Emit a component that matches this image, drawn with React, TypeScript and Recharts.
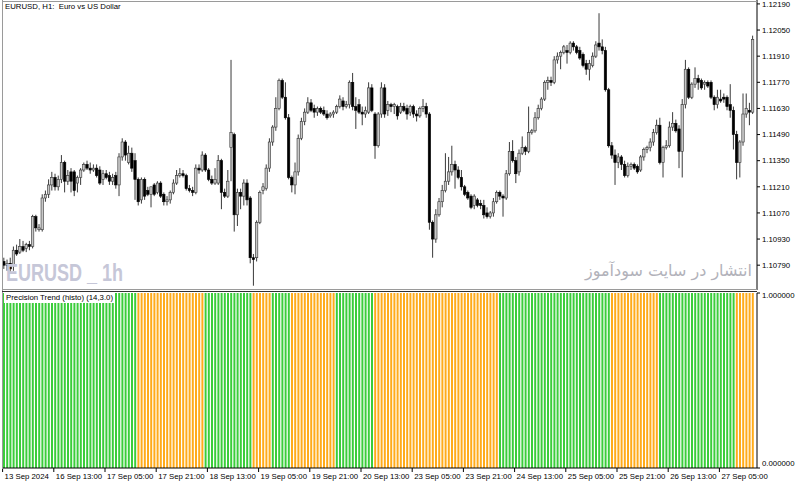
import React from 'react';
import { ComposedChart, Bar, XAxis, YAxis, Cell } from 'recharts';

// EURUSD H1 candles: open, high, low, close
const candles: [number, number, number, number][] = [
  [1.1081, 1.1083, 1.1077, 1.1079], [1.1079, 1.1082, 1.1076, 1.108], [1.108, 1.1083, 1.1075, 1.1077],
  [1.1079, 1.1089, 1.1076, 1.1087], [1.1087, 1.109, 1.1084, 1.1085], [1.1086, 1.1093, 1.1085, 1.1089],
  [1.1089, 1.1092, 1.1086, 1.1087], [1.1088, 1.1091, 1.1086, 1.109], [1.109, 1.1092, 1.1087, 1.1089],
  [1.1089, 1.1106, 1.1088, 1.1105], [1.1105, 1.1106, 1.1097, 1.1099], [1.1098, 1.1101, 1.1097, 1.1099],
  [1.1098, 1.1117, 1.1097, 1.1115], [1.1115, 1.1119, 1.1113, 1.1117], [1.1117, 1.1125, 1.1115, 1.1122],
  [1.1122, 1.1129, 1.1119, 1.1126], [1.1126, 1.1128, 1.1119, 1.1121], [1.1121, 1.1127, 1.1119, 1.1125],
  [1.1125, 1.1138, 1.1123, 1.1134], [1.1134, 1.1135, 1.1118, 1.1124], [1.1124, 1.113, 1.1122, 1.1127],
  [1.1129, 1.1131, 1.1118, 1.1124], [1.1129, 1.113, 1.1116, 1.1119], [1.1123, 1.1127, 1.1118, 1.1126],
  [1.1126, 1.1131, 1.1122, 1.113], [1.113, 1.1134, 1.1129, 1.1133], [1.1133, 1.1135, 1.113, 1.1131],
  [1.1131, 1.1134, 1.1128, 1.113], [1.113, 1.1133, 1.1129, 1.1131], [1.1131, 1.1133, 1.1126, 1.1127],
  [1.113, 1.1132, 1.1122, 1.1123], [1.1125, 1.113, 1.1122, 1.1128], [1.1128, 1.113, 1.1125, 1.1126],
  [1.1127, 1.1129, 1.1122, 1.1124], [1.1124, 1.1128, 1.1122, 1.1126], [1.1127, 1.1129, 1.112, 1.1122],
  [1.1122, 1.1139, 1.1116, 1.1137], [1.1137, 1.1147, 1.1135, 1.1145], [1.1145, 1.1146, 1.1135, 1.1138],
  [1.1134, 1.1143, 1.1133, 1.1139], [1.1139, 1.1142, 1.1129, 1.1131], [1.1135, 1.1139, 1.1114, 1.1125],
  [1.1125, 1.1126, 1.1111, 1.1113], [1.1114, 1.1126, 1.1112, 1.1125], [1.1125, 1.1126, 1.1114, 1.1116],
  [1.1119, 1.1121, 1.1116, 1.1117], [1.1117, 1.1121, 1.111, 1.1121], [1.1122, 1.1123, 1.1116, 1.1117],
  [1.1118, 1.1124, 1.1117, 1.1123], [1.1123, 1.1124, 1.1115, 1.1116], [1.1117, 1.1118, 1.1111, 1.1113],
  [1.1113, 1.1116, 1.1111, 1.1114], [1.1114, 1.1119, 1.1112, 1.1118], [1.1118, 1.1125, 1.1117, 1.1123],
  [1.1123, 1.113, 1.1122, 1.1127], [1.1127, 1.1131, 1.1126, 1.1128], [1.1128, 1.113, 1.1126, 1.1127],
  [1.1127, 1.1128, 1.1119, 1.112], [1.112, 1.1122, 1.1118, 1.1119], [1.1119, 1.1121, 1.1116, 1.1118],
  [1.1118, 1.1133, 1.1117, 1.1131], [1.1131, 1.1133, 1.1128, 1.113], [1.113, 1.114, 1.1129, 1.1138],
  [1.1138, 1.1139, 1.1129, 1.113], [1.113, 1.1131, 1.1124, 1.1125], [1.1125, 1.1127, 1.1122, 1.1123],
  [1.1123, 1.1131, 1.1122, 1.1125], [1.1123, 1.1138, 1.1122, 1.1135], [1.1135, 1.1136, 1.1109, 1.1118],
  [1.1118, 1.112, 1.1115, 1.1116], [1.1116, 1.113, 1.1115, 1.1124], [1.1142, 1.1189, 1.1124, 1.115],
  [1.1149, 1.115, 1.1097, 1.1106], [1.1106, 1.112, 1.11, 1.1118], [1.1118, 1.112, 1.1109, 1.1116],
  [1.1116, 1.1125, 1.1111, 1.1123], [1.1123, 1.1125, 1.1111, 1.1114], [1.1115, 1.1116, 1.108, 1.1083],
  [1.1083, 1.1085, 1.1068, 1.1082], [1.1083, 1.1103, 1.1081, 1.1102], [1.1102, 1.1119, 1.1101, 1.1118],
  [1.1119, 1.1123, 1.1117, 1.1121], [1.112, 1.1133, 1.1119, 1.1131], [1.1131, 1.1147, 1.1129, 1.1145],
  [1.1145, 1.1154, 1.1143, 1.1153], [1.1153, 1.1169, 1.1151, 1.1163], [1.1163, 1.1179, 1.1162, 1.1178],
  [1.1178, 1.1179, 1.1168, 1.1169], [1.1169, 1.1177, 1.1157, 1.1158], [1.1158, 1.116, 1.1125, 1.1126],
  [1.1126, 1.1127, 1.1118, 1.1122], [1.1122, 1.1134, 1.1117, 1.1129], [1.1129, 1.1149, 1.1127, 1.1147],
  [1.1147, 1.1158, 1.1146, 1.1156], [1.1156, 1.1163, 1.1154, 1.1161], [1.1161, 1.1169, 1.116, 1.1166],
  [1.1166, 1.1168, 1.1161, 1.1162], [1.1163, 1.1165, 1.1158, 1.1161], [1.1161, 1.1164, 1.1159, 1.1163],
  [1.1163, 1.1164, 1.116, 1.1161], [1.1162, 1.1164, 1.1159, 1.116], [1.116, 1.1162, 1.1157, 1.1158],
  [1.1159, 1.1161, 1.1158, 1.116], [1.116, 1.1162, 1.1158, 1.1161], [1.1161, 1.1165, 1.116, 1.1164],
  [1.1164, 1.117, 1.1163, 1.1168], [1.1167, 1.1169, 1.1162, 1.1164], [1.1164, 1.1167, 1.1163, 1.1165],
  [1.1165, 1.1178, 1.1163, 1.1177], [1.1177, 1.1182, 1.1162, 1.1164], [1.1164, 1.1169, 1.1152, 1.1162],
  [1.1165, 1.1168, 1.116, 1.1161], [1.1161, 1.1164, 1.1154, 1.116], [1.116, 1.1164, 1.1158, 1.1162],
  [1.1161, 1.1177, 1.116, 1.1174], [1.1174, 1.1176, 1.1161, 1.1162], [1.116, 1.1161, 1.1136, 1.1143],
  [1.1143, 1.1161, 1.1142, 1.116], [1.116, 1.1177, 1.1158, 1.1174], [1.1174, 1.1176, 1.1158, 1.116],
  [1.1162, 1.1167, 1.1159, 1.1165], [1.1165, 1.1166, 1.1161, 1.1164], [1.1164, 1.1166, 1.116, 1.1165],
  [1.1164, 1.1165, 1.1157, 1.1159], [1.1161, 1.1166, 1.116, 1.1164], [1.1164, 1.1166, 1.1161, 1.1162],
  [1.1163, 1.1165, 1.1157, 1.116], [1.1161, 1.1165, 1.1159, 1.1164], [1.1164, 1.1165, 1.1158, 1.116],
  [1.116, 1.1162, 1.1156, 1.1159], [1.1159, 1.1164, 1.1158, 1.1163], [1.1163, 1.1168, 1.1161, 1.1164],
  [1.1164, 1.1166, 1.1158, 1.116], [1.116, 1.1161, 1.1098, 1.1102], [1.1102, 1.1103, 1.1083, 1.1093],
  [1.1093, 1.1109, 1.1091, 1.1106], [1.1106, 1.1115, 1.1105, 1.1113], [1.1113, 1.1122, 1.111, 1.1119],
  [1.1119, 1.1139, 1.1118, 1.1124], [1.1124, 1.1137, 1.1122, 1.1129], [1.1129, 1.1143, 1.1127, 1.1133],
  [1.1133, 1.1135, 1.112, 1.113], [1.113, 1.1132, 1.1125, 1.1126], [1.1126, 1.113, 1.1119, 1.1121],
  [1.1121, 1.1122, 1.1116, 1.1117], [1.1118, 1.1119, 1.1114, 1.1115], [1.1116, 1.1117, 1.1109, 1.111],
  [1.1111, 1.1117, 1.1109, 1.1116], [1.1114, 1.1115, 1.111, 1.1111], [1.1112, 1.1114, 1.1109, 1.1111],
  [1.1111, 1.1114, 1.1104, 1.1106], [1.1107, 1.111, 1.1104, 1.1105], [1.1105, 1.1108, 1.1104, 1.1107],
  [1.1107, 1.1115, 1.1105, 1.1113], [1.1113, 1.1119, 1.1112, 1.1118], [1.1118, 1.1119, 1.1114, 1.1116],
  [1.1116, 1.1117, 1.1105, 1.1115], [1.1115, 1.113, 1.1114, 1.1128], [1.1128, 1.1145, 1.1127, 1.114],
  [1.114, 1.1146, 1.1134, 1.1135], [1.1135, 1.1137, 1.1123, 1.1128], [1.1129, 1.1141, 1.1127, 1.1139],
  [1.1139, 1.1148, 1.1138, 1.1142], [1.1142, 1.1143, 1.1138, 1.114], [1.114, 1.1164, 1.1139, 1.115],
  [1.115, 1.1152, 1.1149, 1.1151], [1.1151, 1.1161, 1.115, 1.1158], [1.1158, 1.1165, 1.1157, 1.1163],
  [1.1163, 1.1169, 1.1162, 1.1168], [1.1168, 1.1178, 1.1167, 1.1177], [1.1177, 1.118, 1.1173, 1.1178],
  [1.1178, 1.118, 1.1175, 1.1177], [1.1177, 1.1191, 1.1176, 1.1189], [1.1189, 1.1193, 1.1187, 1.1191],
  [1.1191, 1.1194, 1.1184, 1.1193], [1.1193, 1.1197, 1.1192, 1.1196], [1.1194, 1.1197, 1.1187, 1.1193],
  [1.1193, 1.1199, 1.1192, 1.1198], [1.1198, 1.1199, 1.1194, 1.1196], [1.1196, 1.1197, 1.1192, 1.1193],
  [1.1194, 1.1196, 1.1189, 1.119], [1.1192, 1.1193, 1.1185, 1.1186], [1.1187, 1.1189, 1.1181, 1.1184],
  [1.1184, 1.1189, 1.1178, 1.1187], [1.1186, 1.1193, 1.1185, 1.1191], [1.1191, 1.1199, 1.119, 1.1197],
  [1.1198, 1.1214, 1.1194, 1.1196], [1.1196, 1.12, 1.1192, 1.1194], [1.1194, 1.1196, 1.1172, 1.1173],
  [1.1173, 1.1174, 1.1142, 1.1143], [1.1143, 1.1145, 1.1136, 1.1138], [1.1138, 1.1141, 1.1122, 1.1134],
  [1.1134, 1.1139, 1.1131, 1.1137], [1.1137, 1.1138, 1.113, 1.1133], [1.1133, 1.1135, 1.1126, 1.1127],
  [1.1127, 1.1134, 1.1126, 1.1132], [1.1132, 1.1134, 1.113, 1.1133], [1.1133, 1.1134, 1.113, 1.1131],
  [1.1132, 1.1133, 1.1128, 1.1129], [1.113, 1.1138, 1.1129, 1.1137], [1.1137, 1.1142, 1.1135, 1.1141],
  [1.1141, 1.1143, 1.1139, 1.1142], [1.1142, 1.1147, 1.114, 1.1145], [1.1145, 1.1152, 1.1143, 1.115],
  [1.115, 1.1157, 1.1149, 1.1154], [1.1154, 1.1158, 1.1133, 1.1134], [1.1134, 1.1143, 1.1126, 1.1142],
  [1.1142, 1.1146, 1.1141, 1.1143], [1.1143, 1.1156, 1.1142, 1.1153], [1.1153, 1.1161, 1.1151, 1.1155],
  [1.1155, 1.1157, 1.115, 1.1151], [1.1152, 1.1154, 1.1131, 1.114], [1.114, 1.1168, 1.1126, 1.1165],
  [1.1165, 1.1189, 1.1163, 1.1184], [1.1184, 1.1185, 1.1168, 1.1169], [1.1169, 1.1177, 1.1168, 1.1176],
  [1.1176, 1.1185, 1.1174, 1.1179], [1.1179, 1.1181, 1.1173, 1.1177], [1.1178, 1.1179, 1.1173, 1.1174],
  [1.1176, 1.1178, 1.1173, 1.1177], [1.1177, 1.1178, 1.1174, 1.1175], [1.1177, 1.1178, 1.1168, 1.1169],
  [1.1169, 1.117, 1.1162, 1.1165], [1.1165, 1.1173, 1.1163, 1.1169], [1.1168, 1.1173, 1.1166, 1.1167],
  [1.1169, 1.1171, 1.1166, 1.1168], [1.1169, 1.117, 1.1162, 1.1164], [1.1165, 1.1176, 1.1158, 1.1162],
  [1.1162, 1.1164, 1.1141, 1.1149], [1.1149, 1.1151, 1.1125, 1.1134], [1.1134, 1.1146, 1.1126, 1.1145],
  [1.1145, 1.1171, 1.1143, 1.116], [1.116, 1.1171, 1.1158, 1.1163], [1.1162, 1.1166, 1.1154, 1.1161],
  [1.1161, 1.1202, 1.116, 1.12],
];

// Precision Trend histogram state, as runs of [bars, direction] (1 = up / green, -1 = down / orange)
const trendRuns: [number, number][] = [
  [42, 1], [21, -1], [15, 1], [6, -1], [6, 1], [14, -1],
  [12, 1], [39, -1], [35, 1], [15, -1], [24, 1], [6, -1],
];

const priceTicks = [1.1219, 1.1205, 1.1191, 1.1177, 1.1163, 1.1149, 1.1135, 1.1121, 1.1107, 1.1093, 1.1079];
const levelTicks = [0, 1];
const dateLabels = [
  '13 Sep 2024', '16 Sep 13:00', '17 Sep 05:00', '17 Sep 21:00', '18 Sep 13:00',
  '19 Sep 05:00', '19 Sep 21:00', '20 Sep 13:00', '23 Sep 05:00', '23 Sep 21:00',
  '24 Sep 13:00', '25 Sep 05:00', '25 Sep 21:00', '26 Sep 13:00', '27 Sep 05:00',
];
const LABEL_EVERY = 16;

const FONT = '"Liberation Sans", Arial, sans-serif';
const GREEN = '#3acd3a';
const ORANGE = '#ffab1a';

const trend = trendRuns.flatMap(([n, dir]) => Array.from({ length: n }, () => dir));

const data = candles.map(([open, high, low, close], i) => ({
  i,
  open,
  high,
  low,
  close,
  range: [low, high],
  level: 1,
  up: trend[i] > 0,
}));

function Candle(props: any) {
  const { x, y, width, height, payload } = props;
  if (x == null || payload == null) return null;
  const { open, high, low, close } = payload;
  const top = Math.min(y, y + height);
  const h = Math.abs(height);
  const span = high - low || 1e-9;
  const py = (v: number) => top + ((high - v) / span) * h;
  const cx = x + width / 2;
  const bull = close >= open;
  const bTop = py(Math.max(open, close));
  const bBot = py(Math.min(open, close));
  const bw = 2.4;
  return (
    <g>
      <line x1={cx} x2={cx} y1={top} y2={top + h} stroke="#222" strokeWidth={0.9} />
      <rect
        x={cx - bw / 2}
        y={bTop}
        width={bw}
        height={Math.max(bBot - bTop, 0.8)}
        fill={bull ? '#c8c8c8' : '#000'}
        stroke={bull ? '#333' : '#000'}
        strokeWidth={0.6}
      />
    </g>
  );
}

function DateTick(props: any) {
  const { x, y, payload } = props;
  const label = dateLabels[payload.value / LABEL_EVERY];
  if (label === undefined) return null;
  return (
    <g>
      <line x1={x - 1} x2={x - 1} y1={y} y2={y + 4} stroke="#000" strokeWidth={1} />
      <text x={x + 1} y={y + 11} fontSize={7.8} fill="#000" fontFamily={FONT}>
        {label}
      </text>
    </g>
  );
}

function LevelTick(props: any) {
  const { x, y, payload } = props;
  const isTop = payload.value === 1;
  return (
    <g>
      <line x1={x} x2={x + 3} y1={y} y2={y} stroke="#000" strokeWidth={1} />
      <text x={x + 5} y={isTop ? y + 5 : y - 2} fontSize={7.8} fill="#000" fontFamily={FONT}>
        {payload.value.toFixed(6)}
      </text>
    </g>
  );
}

const overlay: React.CSSProperties = { position: 'absolute', zIndex: 2 };

export default function App() {
  return (
    <div
      style={{
        position: 'absolute',
        left: 0,
        top: 0,
        width: 800,
        height: 485,
        background: '#fff',
        overflow: 'hidden',
        fontFamily: FONT,
      }}
    >
      <div style={{ position: 'absolute', left: 0, top: 0 }}>
        <ComposedChart width={800} height={290} data={data} margin={{ top: 0, right: 0, bottom: 0, left: 2 }}>
          <XAxis dataKey="i" hide padding={{ left: 0, right: 3 }} />
          <YAxis
            orientation="right"
            width={43}
            domain={[1.10657, 1.12211]}
            allowDataOverflow
            ticks={priceTicks}
            interval={0}
            tickFormatter={(v: number) => v.toFixed(5)}
            tick={{ fontSize: 7.8, fill: '#000', fontFamily: FONT }}
            tickSize={3}
            tickMargin={2}
            axisLine={{ stroke: '#000' }}
            tickLine={{ stroke: '#000' }}
          />
          <Bar dataKey="range" shape={<Candle />} isAnimationActive={false} />
        </ComposedChart>
      </div>

      <div style={{ position: 'absolute', left: 0, top: 291 }}>
        <ComposedChart width={800} height={194} data={data} margin={{ top: 2, right: 0, bottom: 0, left: 2 }}>
          <XAxis
            dataKey="i"
            interval={LABEL_EVERY - 1}
            height={17}
            padding={{ left: 0, right: 3 }}
            tick={<DateTick />}
            tickSize={0}
            tickMargin={0}
            axisLine={{ stroke: '#000' }}
          />
          <YAxis
            orientation="right"
            width={43}
            domain={[0, 1]}
            ticks={levelTicks}
            interval={0}
            tick={<LevelTick />}
            tickSize={0}
            tickMargin={0}
            axisLine={{ stroke: '#000' }}
          />
          <Bar dataKey="level" barSize={2} isAnimationActive={false}>
            {data.map((d) => (
              <Cell key={d.i} fill={d.up ? GREEN : ORANGE} />
            ))}
          </Bar>
        </ComposedChart>
      </div>

      {/* pane frames */}
      <div style={{ ...overlay, left: 2, top: 0, width: 1, height: 469, background: '#9a9a9a' }} />
      <div style={{ ...overlay, left: 2, top: 1, width: 755, height: 1, background: '#9a9a9a' }} />
      <div style={{ ...overlay, left: 2, top: 289, width: 755, height: 1, background: '#9a9a9a' }} />
      <div style={{ ...overlay, left: 2, top: 291, width: 755, height: 1, background: '#333' }} />

      <div style={{ ...overlay, left: 5, top: 2, fontSize: 7.8, lineHeight: '10px', color: '#000', whiteSpace: 'pre' }}>
        {'EURUSD, H1:  Euro vs US Dollar'}
      </div>
      <div
        style={{
          ...overlay,
          left: 6,
          top: 259,
          fontSize: 24,
          lineHeight: '28px',
          fontWeight: 'bold',
          color: '#c6c7d8',
          whiteSpace: 'pre',
          transform: 'scaleX(0.75)',
          transformOrigin: 'left top',
        }}
      >
        EURUSD _ 1h
      </div>
      <div
        dir="rtl"
        style={{
          ...overlay,
          right: 48,
          top: 260,
          fontSize: 16,
          lineHeight: '21px',
          color: '#b2b2ba',
          whiteSpace: 'nowrap',
          fontFamily: '"DejaVu Sans", sans-serif',
        }}
      >
        انتشار در سایت سودآموز
      </div>
      <div
        style={{
          ...overlay,
          left: 4,
          top: 293,
          fontSize: 7.8,
          color: '#000',
          background: '#fff',
          padding: '0 2px',
          lineHeight: '10px',
          whiteSpace: 'nowrap',
        }}
      >
        Precision Trend (histo) (14,3.0)
      </div>
    </div>
  );
}
